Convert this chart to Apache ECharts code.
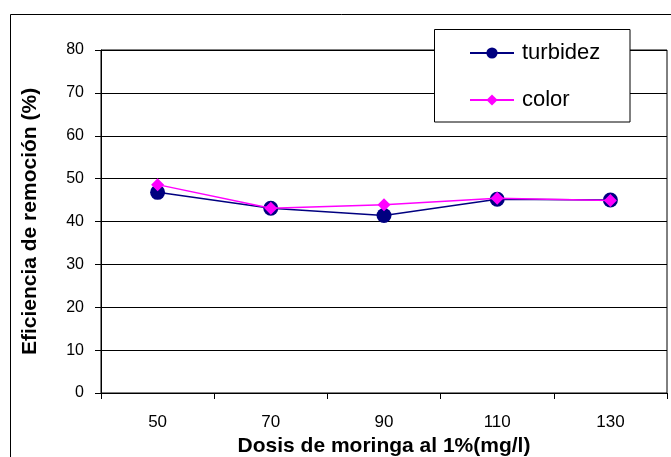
<!DOCTYPE html>
<html>
<head>
<meta charset="utf-8">
<title>Eficiencia de remoción</title>
<script src="https://cdn.jsdelivr.net/npm/echarts@6/dist/echarts.min.js"></script>
<style>
  html, body { margin: 0; padding: 0; background: #fff; }
  #chart { width: 671px; height: 457px; }
</style>
</head>
<body>
<div id="chart"></div>
<script>
// Dose of 1% moringa solution (mg/l)
const doses = ['50', '70', '90', '110', '130'];
// Removal efficiency (%)
const turbidez = [46.8, 43.1, 41.4, 45.2, 45.0];
const color = [48.6, 43.1, 43.9, 45.4, 44.9];
// Value-axis range
const yMin = 0;
const yMax = 80;
const yStep = 10;

const FONT = '"Liberation Sans", Arial, sans-serif';

const chart = echarts.init(document.getElementById('chart'), null, { renderer: 'canvas' });

chart.setOption({
  animation: false,
  backgroundColor: '#fff',
  textStyle: { fontFamily: FONT, color: '#000' },
  graphic: [
    {
      // outer chart frame
      type: 'rect',
      z: 0,
      shape: { x: 10.5, y: 14.5, width: 700, height: 500 },
      style: { fill: 'none', stroke: '#000', lineWidth: 1 }
    },
    {
      // legend box
      type: 'rect',
      z: 3,
      shape: { x: 434.5, y: 29.5, width: 195.5, height: 92.5 },
      style: { fill: '#fff', stroke: '#000', lineWidth: 1 }
    }
  ],
  legend: {
    z: 5,
    orient: 'vertical',
    left: 469,
    top: 42,
    padding: 0,
    itemGap: 25,
    itemWidth: 44,
    itemHeight: 14,
    textStyle: { fontFamily: FONT, fontSize: 22, color: '#000', lineHeight: 22, padding: [0, 0, 0, 3] },
    data: ['turbidez', 'color']
  },
  grid: {
    left: 101,
    right: 4,
    top: 50,
    bottom: 64,
    outerBoundsMode: 'none',
    containLabel: false,
    show: true,
    borderColor: '#000',
    borderWidth: 1,
    backgroundColor: 'transparent'
  },
  xAxis: {
    type: 'category',
    data: doses,
    boundaryGap: true,
    name: 'Dosis de moringa al 1%(mg/l)',
    nameLocation: 'middle',
    nameGap: 41,
    nameTextStyle: { fontFamily: FONT, fontSize: 21, fontWeight: 'bold', color: '#000' },
    axisLine: { lineStyle: { color: '#000', width: 1 } },
    axisTick: { show: true, inside: false, length: 6, alignWithLabel: false, lineStyle: { color: '#000' } },
    axisLabel: { fontFamily: FONT, fontSize: 17, color: '#000', margin: 21 },
    splitLine: { show: false }
  },
  yAxis: {
    type: 'value',
    min: yMin,
    max: yMax,
    interval: yStep,
    name: 'Eficiencia de remoción (%)',
    nameLocation: 'middle',
    nameRotate: 90,
    nameGap: 60,
    nameTextStyle: { fontFamily: FONT, fontSize: 21, fontWeight: 'bold', color: '#000' },
    axisLine: { show: true, lineStyle: { color: '#000', width: 1 } },
    axisTick: { show: true, inside: false, length: 6, lineStyle: { color: '#000' } },
    axisLabel: { fontFamily: FONT, fontSize: 16, color: '#000', margin: 17 },
    splitLine: { show: true, lineStyle: { color: '#000', width: 1 } }
  },
  series: [
    {
      name: 'turbidez',
      type: 'line',
      data: turbidez,
      z: 2,
      symbol: 'circle',
      symbolSize: 15,
      lineStyle: { color: '#000080', width: 1.5 },
      itemStyle: { color: '#000080' }
    },
    {
      name: 'color',
      type: 'line',
      data: color,
      z: 3,
      symbol: 'diamond',
      symbolSize: 13,
      lineStyle: { color: '#FF00FF', width: 1.5 },
      itemStyle: { color: '#FF00FF' }
    }
  ]
});
</script>
</body>
</html>
